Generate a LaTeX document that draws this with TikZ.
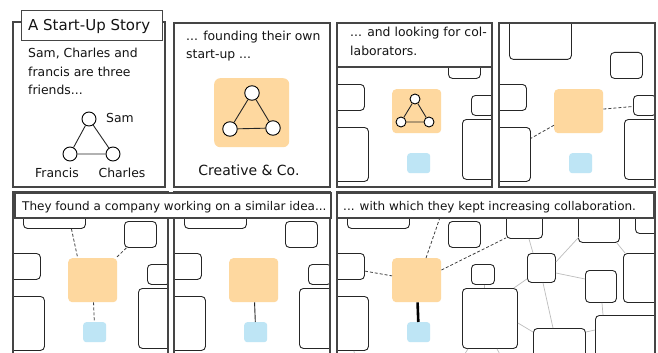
\documentclass[tikz,border=0pt]{standalone}
\usepackage{fontspec}
\setmainfont{DejaVu Sans}
\usetikzlibrary{calc}
\definecolor{peach}{HTML}{FED89F}
\definecolor{sky}{HTML}{BEE5F5}
\definecolor{framec}{HTML}{454545}
\definecolor{edgegray}{HTML}{BDBDBD}
\tikzset{
 panel/.style={draw=framec, line width=1.3pt},
 capbox/.style={draw=framec, line width=1.3pt, fill=white},
 cbox/.style={draw=black!85, line width=0.9pt, rounded corners=4pt, fill=white, anchor=north west, inner sep=0pt},
 obox/.style={fill=peach, rounded corners=4pt, anchor=north west, inner sep=0pt},
 lbox/.style={fill=sky, rounded corners=3pt, anchor=north west, inner sep=0pt},
 pal/.style={circle, draw=black, fill=white, line width=0.9pt, inner sep=0pt},
 txt/.style={anchor=base west, inner sep=0pt, font=\fontsize{12.4}{14}\selectfont, text=black!92},
 captxt/.style={txt, font=\fontsize{12}{14}\selectfont},
 dlink/.style={dash pattern=on 3pt off 2pt, line width=0.8pt, draw=black!75},
 slink/.style={line width=0.9pt, draw=black!85},
 tlink/.style={line width=0.8pt, draw=black},
 glink/.style={draw=edgegray, line width=0.7pt},
}
\newcommand\bx[6][cbox]{\node[#1, minimum width=#5pt, minimum height=#6pt] (#2) at (#3,#4) {};}
\newcommand\basescene[1]{%
 \bx{#1b1}{10}{-30}{62}{66}
 \bx{#1b2}{111}{29}{32}{26}
 \bx{#1b3}{-25}{61}{52}{26}
 \bx{#1b4}{-25}{104}{56}{54}
 \bx{#1b5}{134}{72}{23}{20}
 \bx{#1b6}{125}{96}{55}{60}
 \bx{#1b7}{169}{-30}{36}{76}
 \bx{#1b8}{241}{-30}{41}{80}
 \bx{#1b9}{298}{-30}{50}{71}
 \bx{#1b10}{190}{61}{28}{29}
 \bx{#1b11}{248}{78}{31}{32}
 \bx{#1b12}{286}{61}{60}{49}
 \bx{#1b13}{196}{136}{52}{70}
 \bx{#1b14}{258}{123}{90}{80}
 \bx[obox]{#1o}{55}{66}{49}{44}
 \bx[lbox]{#1l}{70}{130}{23}{20}
}
\begin{document}
\begin{tikzpicture}[x=1pt,y=-1pt]
\useasboundingbox (0,0) rectangle (658,353);
\fill[white] (0,0) rectangle (658,353);

% ---------- Panel 1
\draw[panel] (13,22) rectangle (165,187);
\node[capbox, anchor=north west, minimum width=141pt, minimum height=30pt, inner sep=0pt] (title) at (21,10) {};
\node[txt, font=\fontsize{15}{17}\selectfont] (titletxt) at (28,30.5) {A Start-Up Story};
\node[txt] (p1l1) at (28,57) {Sam, Charles and};
\node[txt] (p1l2) at (28,76) {francis are three};
\node[txt] (p1l3) at (28,94) {friends...};
\node[pal, minimum size=14pt] (sam) at (89,119) {};
\node[pal, minimum size=14pt] (francis) at (70,154) {};
\node[pal, minimum size=14pt] (charles) at (113,154) {};
\draw[slink] (sam) -- (francis) -- (charles) -- (sam);
\node[txt] (samlbl) at (106,122) {Sam};
\node[txt, anchor=base] (francislbl) at (57,177) {Francis};
\node[txt, anchor=base] (charleslbl) at (122,177) {Charles};

% ---------- Panel 2
\draw[panel] (174,23) rectangle (330,187);
\node[txt] (p2l1) at (186,41) {... founding their own};
\node[txt] (p2l2) at (186,59) {start-up ...};
\node[obox, rounded corners=6pt, minimum width=75pt, minimum height=69pt] (co) at (214,78) {};
\node[pal, minimum size=14.5pt] (p2a) at (252,93) {};
\node[pal, minimum size=14.5pt] (p2b) at (230,129) {};
\node[pal, minimum size=14.5pt] (p2c) at (273,128) {};
\draw[slink] (p2a) -- (p2b) -- (p2c) -- (p2a);
\node[txt, anchor=base, font=\fontsize{14}{16}\selectfont] (coname) at (249,175) {Creative \& Co.};

% ---------- Panel 3
\begin{scope}[shift={(337,23)}]
 \clip (0,0) rectangle (155,164);
 \basescene{p3}
 \node[pal, minimum size=10pt] (p3a) at (78,76) {};
 \node[pal, minimum size=10pt] (p3b) at (64,99) {};
 \node[pal, minimum size=10pt] (p3c) at (92,99) {};
 \draw[slink] (p3a) -- (p3b) -- (p3c) -- (p3a);
\end{scope}
\draw[panel] (337,23) rectangle (492,187);
\draw[capbox] (337,23) rectangle (492,67);
\node[txt] (p3l1) at (350,37) {... and looking for col-};
\node[txt] (p3l2) at (350,56) {laborators.};

% ---------- Panel 4
\begin{scope}[shift={(499,23)}]
 \clip (0,0) rectangle (156,164);
 \basescene{p4}
 \draw[dlink] (p4o) -- (p4b5);
 \draw[dlink] (p4o) -- (p4b4);
\end{scope}
\draw[panel] (499,23) rectangle (655,187);

% ---------- Panel A
\begin{scope}[shift={(13,192)}]
 \clip (0,0) rectangle (155,170);
 \basescene{pa}
 \draw[dlink] ($(pab1.south)+(17,0)$) -- ($(pao.north)+(-15,0)$);
 \draw[dlink] (pab2) -- (pao);
 \draw[dlink] (pao) -- (pal);
\end{scope}
\draw[panel] (13,192) rectangle (168,365);

% ---------- Panel B
\begin{scope}[shift={(174,192)}]
 \clip (0,0) rectangle (156,170);
 \basescene{pb}
 \draw[slink] (pbo) -- (pbl);
\end{scope}
\draw[panel] (174,192) rectangle (330,365);

% ---------- Panel C
\begin{scope}[shift={(337,192)}]
 \clip (0,0) rectangle (318,170);
 \basescene{pc}
 \coordinate (pcup) at (109,8);
 \coordinate (pcs1) at (19,168);
 \coordinate (pcs2) at (124,168);
 \coordinate (pcs3) at (166,168);
 \draw[glink] ($(pcb7.south west)+(23,0)$) -- ($(pcb10.north west)+(6,0)$);
 \draw[glink] ($(pcb10.north east)+(0,9)$) -- ($(pcb8.south west)+(1,-6)$);
 \draw[glink] ($(pcb8.south east)+(-3,0)$) -- ($(pcb12.north west)+(2,0)$);
 \draw[glink] ($(pcb10.north east)+(0,20)$) -- ($(pcb11.north west)+(0,9)$);
 \draw[glink] ($(pcb10.south west)+(16,0)$) -- ($(pcb13.north west)+(20,0)$);
 \draw[glink] ($(pcb6.north east)+(-4,0)$) -- ($(pcb10.south west)+(0,-4)$);
 \draw[glink] ($(pcb5.south west)+(13,0)$) -- ($(pcb6.north west)+(22,0)$);
 \draw[glink] ($(pcb6.north east)+(0,35)$) -- ($(pcb13.north west)+(0,4)$);
 \draw[glink] ($(pcb11.south west)+(17,0)$) -- ($(pcb14.north west)+(8,0)$);
 \draw[glink] ($(pcb13.north east)+(0,4)$) -- ($(pcb14.north west)+(0,15)$);
 \draw[glink] ($(pcb4.south east)+(-15,0)$) -- (pcs1);
 \draw[glink] ($(pcb6.south west)+(6,0)$) -- (pcs2);
 \draw[glink] ($(pcb6.south west)+(35,0)$) -- (pcs3);
 \draw[dlink] (pcb3) -- (pco);
 \draw[dlink] ($(pco.north west)+(34,0)$) -- (pcup);
 \draw[dlink] ($(pco.north east)+(0,12)$) -- ($(pcb7.south west)+(0,-1)$);
 \draw[tlink, line width=2.6pt] (pco) -- (pcl);
\end{scope}
\draw[panel] (337,192) rectangle (655,365);

% ---------- Captions bottom
\draw[capbox] (15,193) rectangle (331,218);
\node[captxt] (capa) at (22,210) {They found a company working on a similar idea...};
\draw[capbox] (337,193) rectangle (654,218);
\node[captxt] (capc) at (343,210) {... with which they kept increasing collaboration.};
\end{tikzpicture}
\end{document}
